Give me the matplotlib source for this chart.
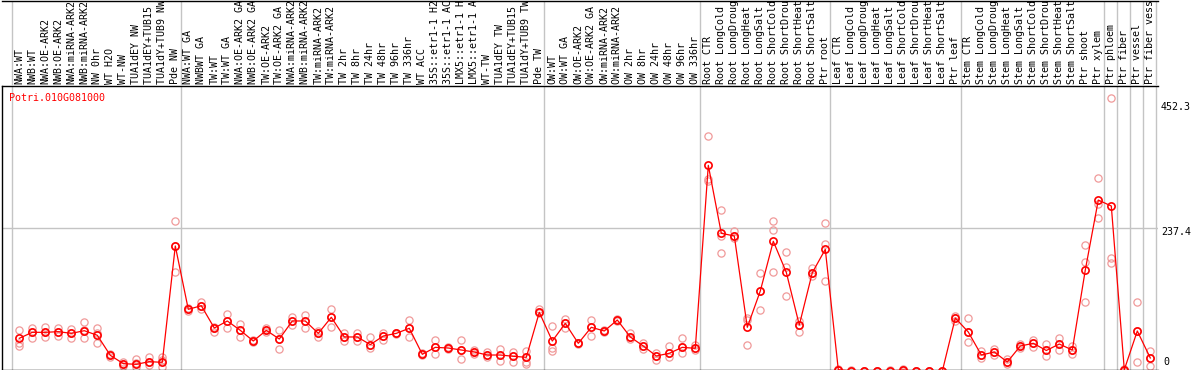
import matplotlib
matplotlib.use("Agg")
import matplotlib.pyplot as plt
from matplotlib.transforms import blended_transform_factory

# ---------------- data ----------------
gene_id = "Potri.010G081000"

labels_nw = ["NWA:WT", "NWB:WT", "NWA:OE-ARK2", "NWB:OE-ARK2", "NWA:miRNA-ARK2",
             "NWB:miRNA-ARK2", "NW 0hr", "WT H2O", "WT-NW", "TUA1dEY NW",
             "TUA1dEY+TUB15 NW", "TUA1dY+TUB9 NW", "Pde NW"]
labels_tw = ["NWA:WT GA", "NWBWT GA", "TW:WT", "TW:WT GA", "NWA:OE-ARK2 GA",
             "NWB:OE-ARK2 GA", "TW:OE-ARK2", "TW:OE-ARK2 GA", "NWA:miRNA-ARK2 GA",
             "NWB:miRNA-ARK2 GA", "TW:miRNA-ARK2", "TW:miRNA-ARK2 GA", "TW 2hr", "TW 8hr",
             "TW 24hr", "TW 48hr", "TW 96hr", "TW 336hr", "WT ACC", "35S::etr1-1 H2O",
             "35S::etr1-1 ACC", "LMX5::etr1-1 H2O", "LMX5::etr1-1 ACC", "WT-TW",
             "TUA1dEY TW", "TUA1dEY+TUB15 TW", "TUA1dY+TUB9 TW", "Pde TW"]
labels_ow = ["OW:WT", "OW:WT GA", "OW:OE-ARK2", "OW:OE-ARK2 GA", "OW:miRNA-ARK2",
             "OW:miRNA-ARK2 GA", "OW 2hr", "OW 8hr", "OW 24hr", "OW 48hr", "OW 96hr",
             "OW 336hr"]
labels_root = ["Root CTR", "Root LongCold", "Root LongDrought", "Root LongHeat",
               "Root LongSalt", "Root ShortCold", "Root ShortDrought", "Root ShortHeat",
               "Root ShortSalt", "Ptr root"]
labels_leaf = ["Leaf CTR", "Leaf LongCold", "Leaf LongDrought", "Leaf LongHeat",
               "Leaf LongSalt", "Leaf ShortCold", "Leaf ShortDrought", "Leaf ShortHeat",
               "Leaf ShortSalt", "Ptr leaf"]
labels_stem = ["Stem CTR", "Stem LongCold", "Stem LongDrought", "Stem LongHeat",
               "Stem LongSalt", "Stem ShortCold", "Stem ShortDrought", "Stem ShortHeat",
               "Stem ShortSalt", "Ptr shoot"]
labels_ptr = ["Ptr xylem", "Ptr phloem", "Ptr fiber", "Ptr vessel", "Ptr fiber vessel"]

sample_labels = (labels_nw + labels_tw + labels_ow + labels_root + labels_leaf
                 + labels_stem + labels_ptr)

mean_values = [
    55.0, 64.9, 64.9, 66.0, 63.2, 67.6, 60.0, 26.8, 13.0, 11.9, 16.3, 15.2, 207.9,
    103.0, 109.0, 72.0, 83.7, 68.2, 50.5, 68.2, 53.8, 83.7, 83.7, 63.2, 89.8, 57.2,
    57.2, 44.5, 58.8, 63.2, 71.6, 28.5, 40.0, 38.9, 35.6, 32.3, 27.3, 27.3, 25.2,
    23.5, 98.0,
    50.5, 79.8, 46.7, 73.2, 67.1, 85.3, 57.2, 42.2, 25.7, 30.2, 40.0, 38.4,
    341.6, 229.0, 224.5, 73.2, 133.4, 215.7, 164.3, 77.0, 163.7, 202.4,
    3.0, 1.0, 0.5, 0.5, 1.0, 2.5, 0.5, 0.5, 0.5, 88.6,
    65.4, 27.3, 32.3, 15.7, 42.2, 46.7, 34.8, 45.5, 35.6, 168.2,
    284.0, 274.2, 3.0, 67.1, 22.4,
]

replicate_values = [
    [68.8, 46.7, 42.8], [71.6, 64.9, 55.0], [74.2, 64.9, 57.7], [72.6, 66.0, 58.8],
    [69.9, 63.2, 55.0], [81.5, 68.8, 55.0], [71.6, 63.2, 46.7], [29.0, 26.8, 23.5],
    [16.3, 13.0, 9.6], [20.7, 14.4, 8.0], [23.5, 16.3, 10.8], [24.5, 19.0, 8.0],
    [248.8, 207.9, 165.3],
    [104.7, 103.0, 100.0], [115.6, 109.0, 103.5], [74.2, 72.0, 66.0], [94.7, 83.7, 71.6],
    [78.2, 68.2, 57.7], [52.0, 50.5, 48.5], [71.6, 68.2, 66.0], [68.8, 53.8, 36.8],
    [89.8, 83.7, 77.0], [93.6, 83.7, 71.6], [67.6, 63.2, 57.7], [103.0, 89.8, 74.2],
    [63.2, 57.2, 51.0], [64.3, 57.2, 51.0], [57.7, 44.5, 39.0], [63.2, 58.8, 52.2],
    [64.5, 63.2, 62.0], [85.3, 71.6, 57.7], [31.1, 29.0, 27.0], [52.2, 40.0, 29.0],
    [40.5, 38.9, 37.5], [52.2, 35.6, 20.2], [35.6, 32.3, 29.0], [32.8, 27.3, 23.5],
    [37.3, 27.3, 17.9], [31.8, 25.2, 16.3], [34.5, 23.5, 16.3, 13.0],
    [103.0, 98.0, 96.4],
    [75.9, 39.0, 34.0], [87.0, 79.8, 71.6], [48.0, 46.7, 45.0], [85.3, 73.2, 59.3],
    [68.8, 67.1, 65.5], [87.0, 85.3, 83.7], [63.2, 57.2, 53.3], [46.7, 42.2, 37.3],
    [30.1, 25.7, 18.5], [42.2, 30.2, 23.5], [56.2, 40.0, 30.1], [43.9, 38.4, 35.6],
    [390.2, 318.9, 315.6], [267.6, 224.5, 195.8], [233.3, 224.5, 220.7],
    [88.1, 85.5, 43.9], [162.7, 133.4, 101.9], [249.3, 234.4, 164.3],
    [197.5, 172.6, 125.1], [84.2, 77.0, 64.9], [171.0, 163.7, 158.2],
    [245.5, 211.2, 149.9],
    [4.0, 3.0, 2.0], [2.0, 1.0, 0.0], [1.0, 0.5, 0.0], [1.0, 0.5, 0.0], [2.0, 1.0, 0.0],
    [4.0, 2.5, 1.0], [1.0, 0.5, 0.0], [1.0, 0.5, 0.0], [1.0, 0.5, 0.0],
    [92.0, 88.6, 84.0],
    [88.6, 65.4, 48.9], [34.0, 27.3, 22.0], [38.0, 32.3, 27.0], [20.0, 15.7, 12.0],
    [45.0, 42.2, 39.0], [52.0, 46.7, 40.0], [45.0, 34.8, 25.0], [55.0, 45.5, 36.0],
    [42.0, 35.6, 29.0], [209.6, 181.4, 115.1],
    [320.6, 277.0, 254.3], [452.3, 188.0, 179.8], [4.0, 3.0, 1.0],
    [115.1, 67.1, 15.7], [34.0, 22.4, 9.0],
]

# group separators are drawn after these sample indices
separator_after = [-1, 12, 40, 52, 62, 72, 83, 84, 85, 86, 87]

grid_value = 237.4
axis_labels = ["452.3", "237.4", "0"]

# ---------------- figure ----------------
W, H = 1194, 370
fig = plt.figure(figsize=(W / 100, H / 100), dpi=100)
fig.patch.set_facecolor("white")


def fx(px):
    return px / W


def fy(py):
    return 1 - py / H


MONO = "DejaVu Sans Mono"
FS = 7.2

left_px, right_px = 1.5, 1157.5
top_px, bot_px = 86.0, 369.5

ax = fig.add_axes([fx(left_px), fy(bot_px), fx(right_px) - fx(left_px), fy(top_px) - fy(bot_px)])
ax_lab = fig.add_axes([fx(left_px), fy(top_px), fx(right_px) - fx(left_px), fy(0.5) - fy(top_px)])

n = len(sample_labels)
xs = list(range(n))
xlim = ((left_px - 19.3) / 13.0, (right_px - 19.3) / 13.0)
for a in (ax, ax_lab):
    a.set_xlim(*xlim)
    a.set_xticks([])
    a.set_yticks([])
    a.set_facecolor("none")

ax.set_ylim(3.31, 473.0)
ax_lab.set_ylim(0, 1)

ax.spines["right"].set_visible(False)
for s in ["left", "bottom", "top"]:
    ax.spines[s].set_color("black")
    ax.spines[s].set_linewidth(1.0)
for s in ["left", "right", "bottom"]:
    ax_lab.spines[s].set_visible(False)
ax_lab.spines["top"].set_linewidth(1.0)

GRAY = "#c4c4c4"
for i in separator_after:
    xv = i + 0.4
    ax.axvline(xv, color=GRAY, lw=1.0, zorder=0)
    ax_lab.axvline(xv, color=GRAY, lw=1.0, zorder=0)
ax.axhline(grid_value, color=GRAY, lw=1.0, zorder=0)

# replicate points
rx, ry = [], []
for i, reps in enumerate(replicate_values):
    for v in reps:
        rx.append(i)
        ry.append(v)
ax.plot(rx, ry, ls="none", marker="o", mfc="none", mec="#f09a9a", ms=5.2, mew=0.9,
        clip_on=False, zorder=2)

# mean line
ax.plot(xs, mean_values, color="red", lw=0.9, marker="o", mfc="none", mec="red",
        ms=5.2, mew=1.2, clip_on=False, zorder=3)

# sample labels (clipped at the top edge as in the original)
trans = blended_transform_factory(ax_lab.transData, fig.transFigure)
for i, lab in enumerate(sample_labels):
    ax_lab.text(i, fy(84.5), lab, transform=trans, rotation=90, ha="center", va="bottom",
                family=MONO, fontsize=FS, color="black", clip_on=True)

# title
fig.text(fx(9.3), fy(100.7), gene_id, color="red", family=MONO, fontsize=FS,
         ha="left", va="baseline")

# right-side value labels
label_y_px = [107, 232, 362]
label_x_px = [1161, 1161, 1163]
for t, xp, yp in zip(axis_labels, label_x_px, label_y_px):
    fig.text(fx(xp), fy(yp), t, family=MONO, fontsize=FS, ha="left", va="center",
             color="black")

fig.savefig("out.png", dpi=100, facecolor="white")
